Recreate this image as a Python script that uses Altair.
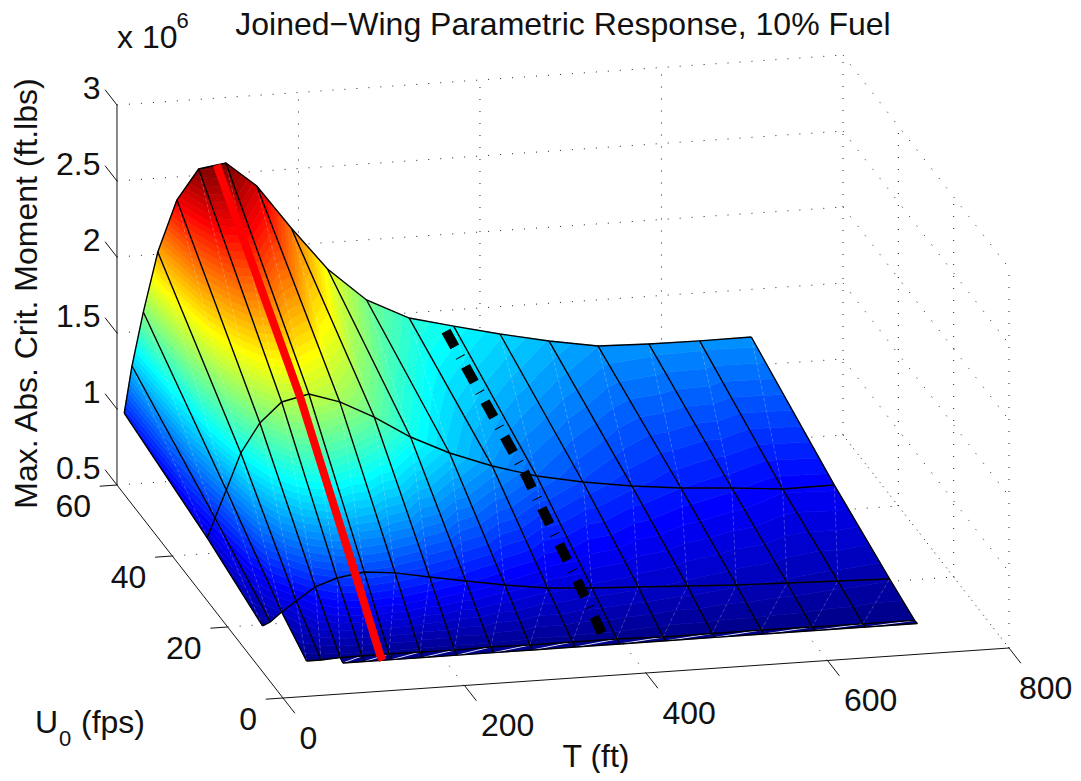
import altair as alt

# --- values (moment in units of 1e6 ft.lbs) ---
T_VALS = [8, 16.5, 29, 45, 66, 90, 120, 154, 192, 232, 275, 322, 371, 422, 476, 530, 586, 642, 699]
U_VALS = [0, 1, 10, 30, 60]
Z_U0 = [None, None, None, None, .703, .703, .703, .703, .703, .703, .703, .703, .703, .703, .703, .703, .703, .703, .703]
Z_U1 = [None, None, .708, .708, .716, .716, .717, .716, .713, .717, .712, .713, .712, .704, .705, .706, .703, .700, .700]
Z_U10 = [.737, .76, .82, .886, .97, 1.019, 1.046, 1.026, .984, .941, .897, .858, .838, .823, .808, .792, .782, .772, .762]
Z_U30 = [.849, .977, 1.156, 1.393, 1.582, 1.71, 1.75, 1.684, 1.569, 1.421, 1.298, 1.193, 1.107, 1.047, .998, .963, .94, .91, .913]
Z_U60 = [.97, 1.276, 1.626, 2.014, 2.348, 2.542, 2.569, 2.404, 2.112, 1.826, 1.604, 1.466, 1.393, 1.32, 1.252, 1.197, 1.187, 1.184, 1.186]
Z_ROWS = [Z_U0, Z_U1, Z_U10, Z_U30, Z_U60]

RED_T = 110
RED_U = [60, 30, 10, 1, 0]
RED_Z = [2.56, 1.74, 1.04, .715, .703]
DASH_T = 358
DASH_U = [58.5, 30, 10, 1]
DASH_Z = [1.40, 1.13, .85, .71]

T_TICKS = [0, 200, 400, 600, 800]
U_TICKS = [0, 20, 40, 60]
Z_TICKS = [.5, 1, 1.5, 2, 2.5, 3]
Z_LABELS = ["0.5", "1", "1.5", "2", "2.5", "3"]
ZMIN, ZMAX = .70, 2.57

# --- orthographic view of the MATLAB axes box ---
def view(t, u, z):
    return [283 + .9075 * t - 2.767 * u, 698 - .0625 * t - 3.55 * u - 152 * (z - .5)]

PROJ = dict(type="identity", scale=1, translate=[-8, -8])

def jet(i):
    x = (i + 1) / 64
    r = max(0, min(1, 4 * x - 1.5, -4 * x + 4.5))
    g = max(0, min(1, 4 * x - .5, -4 * x + 3.5))
    b = max(0, min(1, 4 * x + .5, -4 * x + 2.5))
    return "#%02x%02x%02x" % (round(r * 255), round(g * 255), round(b * 255))
JET = [jet(i) for i in range(64)]

def clip(poly, level, keep_above):
    out = []
    n = len(poly)
    for i in range(n):
        a, b = poly[i], poly[(i + 1) % n]
        ina = a[2] >= level if keep_above else a[2] <= level
        inb = b[2] >= level if keep_above else b[2] <= level
        if ina:
            out.append(a)
        if ina != inb:
            f = (level - a[2]) / (b[2] - a[2])
            out.append(tuple(a[k] + f * (b[k] - a[k]) for k in range(3)))
    return out

def bands(tri):
    zs = [p[2] for p in tri]
    step = (ZMAX - ZMIN) / 64
    res = []
    lo_i = int((min(zs) - ZMIN) // step)
    hi_i = int((max(zs) - ZMIN) // step)
    for k in range(lo_i, hi_i + 1):
        lo = ZMIN + k * step
        hi = lo + step
        poly = clip(clip(tri, lo, True), hi, False)
        if len(poly) >= 3:
            res.append((poly, (lo + hi) / 2))
    return res

def polygon(poly, z):
    ring = [[p[0], p[1]] for p in poly]
    ring.append(ring[0])
    return {"type": "Feature", "properties": {"z": z},
            "geometry": {"type": "Polygon", "coordinates": [ring]}}

def line(points):
    return {"type": "Feature", "properties": {},
            "geometry": {"type": "LineString", "coordinates": points}}

cells, diagonals, front_diagonals = [], [], []
for j in range(len(U_VALS) - 2, -1, -1):
    for i in range(len(T_VALS) - 1):
        zz = [Z_ROWS[j][i], Z_ROWS[j][i + 1], Z_ROWS[j + 1][i + 1], Z_ROWS[j + 1][i]]
        if None in zz:
            continue
        corners = [(T_VALS[i], U_VALS[j]), (T_VALS[i + 1], U_VALS[j]),
                   (T_VALS[i + 1], U_VALS[j + 1]), (T_VALS[i], U_VALS[j + 1])]
        pts = [tuple(view(c[0], c[1], z)[:2]) + (z,) for c, z in zip(corners, zz)]
        for tri in ([pts[0], pts[1], pts[2]], [pts[0], pts[2], pts[3]]):
            for poly, z in bands(tri):
                cells.append(polygon(poly, z))
        d = line([list(pts[0][:2]), list(pts[2][:2])])
        (front_diagonals if j == 0 else diagonals).append(d)

mesh = []
for zr, u in zip(Z_ROWS, U_VALS):
    mesh.append(line([view(t, u, z) for t, z in zip(T_VALS, zr) if z is not None]))
for i, t in enumerate(T_VALS):
    mesh.append(line([view(t, u, zr[i]) for zr, u in zip(Z_ROWS, U_VALS) if zr[i] is not None]))

grid = []
for z in Z_TICKS:
    grid.append(line([view(0, 60, z), view(800, 60, z)]))
    grid.append(line([view(800, 60, z), view(800, 0, z)]))
for t in T_TICKS[1:]:
    grid.append(line([view(t, 60, .5), view(t, 60, 3)]))
    grid.append(line([view(t, 0, .5), view(t, 60, .5)]))
for u in U_TICKS[:-1]:
    grid.append(line([view(800, u, .5), view(800, u, 3)]))
for u in U_TICKS[1:-1]:
    grid.append(line([view(0, u, .5), view(800, u, .5)]))

axes = [line([view(0, 60, 3), view(0, 60, .5)]),
        line([view(0, 60, .5), view(0, 0, .5)]),
        line([view(0, 0, .5), view(800, 0, .5)])]
for z in Z_TICKS:
    axes.append(line([view(0, 60, z), view(0, 64.3, z)]))
for u in U_TICKS:
    axes.append(line([view(0, u, .5), view(-19, u, .5)]))
for t in T_TICKS:
    axes.append(line([view(t, 0, .5), view(t, -4.3, .5)]))

red = [line([view(RED_T, u, z) for u, z in zip(RED_U, RED_Z)])]
dash = [line([view(DASH_T, u, z) for u, z in zip(DASH_U, DASH_Z)])]

def lines(features, **style):
    return alt.Chart(alt.Data(values=features)).mark_geoshape(filled=False, **style).project(**PROJ)

jet_scale = alt.Scale(type="quantize", domain=[ZMIN, ZMAX], range=JET)
surface = alt.Chart(alt.Data(values=cells)).mark_geoshape(strokeWidth=.6).encode(
    fill=alt.Fill("properties.z:Q", scale=jet_scale, legend=None),
    stroke=alt.Stroke("properties.z:Q", scale=jet_scale, legend=None),
).project(**PROJ)

def text_layer(rows, **style):
    style.setdefault("font", "Liberation Sans")
    style.setdefault("color", "#111111")
    return alt.Chart(alt.Data(values=rows)).mark_text(**style).encode(
        longitude="x:Q", latitude="y:Q", text="t:N").project(**PROJ)

FS = 32
# the page leaves 1073 px of width, so the last T label sits a little further left
t_rows = [{"x": min(view(t, 0, .5)[0] + 16.5, 1019), "y": view(t, 0, .5)[1] + 40.5, "t": str(t)} for t in T_TICKS]
u_rows = [{"x": view(0, u, .5)[0] - 26, "y": view(0, u, .5)[1] + 22, "t": str(u)} for u in U_TICKS]
z_rows = [{"x": 100.5, "y": view(0, 60, z)[1] - 16.5, "t": s} for z, s in zip(Z_TICKS, Z_LABELS)]

layers = [
    lines(grid, stroke="#222222", strokeWidth=1, strokeDash=[1, 11]),
    lines(axes, stroke="#111111", strokeWidth=1),
    surface,
    lines(diagonals, stroke="white", strokeWidth=1, opacity=.22, strokeDash=[3, 3]),
    lines(front_diagonals, stroke="white", strokeWidth=1, opacity=.85),
    lines(mesh, stroke="black", strokeWidth=1.4),
    lines(dash, stroke="black", strokeWidth=10, strokeDash=[18, 11, 1, 10.25]),
    lines(red, stroke="#ff0000", strokeWidth=8),
    text_layer(t_rows, fontSize=FS, align="left", baseline="middle"),
    text_layer(u_rows, fontSize=FS, align="right", baseline="middle"),
    text_layer(z_rows, fontSize=FS, align="right", baseline="middle"),
    text_layer([{"x": 563, "y": 24.5, "t": "Joined\u2212Wing Parametric Response, 10% Fuel"}],
               fontSize=FS, align="center", baseline="middle"),
    text_layer([{"x": 117, "y": 37.5, "t": "x 10"}], fontSize=FS, align="left", baseline="middle"),
    text_layer([{"x": 176.5, "y": 21, "t": "6"}], fontSize=22, align="left", baseline="middle"),
    text_layer([{"x": 27, "y": 293.5, "t": "Max. Abs. Crit. Moment (ft.lbs)"}],
               fontSize=FS, align="center", baseline="middle", angle=270),
    text_layer([{"x": 596, "y": 757, "t": "T (ft)"}], fontSize=FS, align="center", baseline="middle"),
    text_layer([{"x": 35, "y": 723, "t": "U"}], fontSize=FS, align="left", baseline="middle"),
    text_layer([{"x": 59, "y": 739, "t": "0"}], fontSize=22, align="left", baseline="middle"),
    text_layer([{"x": 81, "y": 723, "t": "(fps)"}], fontSize=FS, align="left", baseline="middle"),
]

chart = alt.layer(*layers).properties(
    width=1065, height=765, padding=0, autosize=alt.AutoSizeParams(type="none"),
    background="white",
).configure_view(stroke=None)

chart.save("out.html", embed_options={"renderer": "svg", "actions": False})
